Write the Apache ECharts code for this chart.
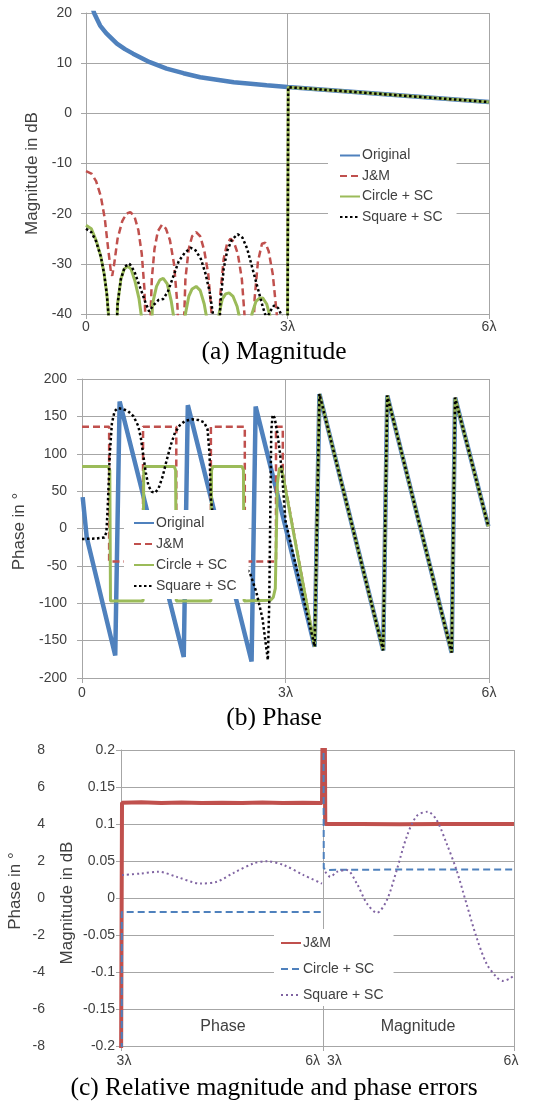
<!DOCTYPE html>
<html><head><meta charset="utf-8">
<script src="https://cdn.jsdelivr.net/npm/echarts@6/dist/echarts.min.js"></script>
<style>
html,body{margin:0;padding:0;background:#fff;}
#a,#b,#c{position:absolute;left:0;width:542px;}
#a{top:0;height:365px;}
#b{top:365px;height:365px;}
#c{top:730px;height:375px;}
</style></head><body>
<div id="a"></div><div id="b"></div><div id="c"></div>
<script>
// ---------- labels ----------
const xTickLabels = ['0', '3λ', '6λ'];
const cTickLabels = ['3λ', '6λ'];
const namesAB = ['Original', 'J&M', 'Circle + SC', 'Square + SC'];
const namesC = ['J&M', 'Circle + SC', 'Square + SC'];
const captions = ['(a) Magnitude', '(b) Phase', '(c) Relative magnitude and phase errors'];
const cRegionLabels = ['Phase', 'Magnitude'];
const axisTitles = ['Magnitude in dB', 'Phase in °'];

// ---------- (a) magnitude [x in λ, dB] ----------
const magOriginalHead = [[0.08,22],[0.12,20],[0.21,17.5],[0.3,16],[0.46,13.9],[0.58,12.8],[0.7,11.9],[0.95,10.2],[1.2,8.9],[1.45,8],[1.7,7.2],[1.95,6.7],[2.2,6.2],[2.45,5.9],[2.69,5.6],[3.0,5.25]];
const magTail = [[3.01,5.2],[3.5,4.75],[4.0,4.25],[4.5,3.75],[5.0,3.25],[5.5,2.75],[6.0,2.25]];
const magJM = [[0,-11.5],[0.08,-12],[0.15,-13.5],[0.22,-16.5],[0.28,-21],[0.33,-27],[0.37,-31.5],[0.39,-32.4],[0.42,-30],[0.47,-25],[0.54,-21.5],[0.6,-20],[0.66,-19.7],[0.72,-20.5],[0.78,-23.3],[0.83,-28],[0.87,-35],[0.9,-48],
 [0.94,-48],[0.98,-33],[1.02,-27],[1.07,-23.5],[1.13,-22.2],[1.19,-23],[1.25,-25.3],[1.31,-30],[1.36,-38],[1.4,-50],
 [1.44,-50],[1.48,-33],[1.53,-27],[1.58,-24.5],[1.64,-23.7],[1.7,-24.5],[1.76,-27.3],[1.82,-32],[1.87,-40],[1.9,-50],
 [1.97,-50],[2.0,-36],[2.05,-29],[2.1,-26],[2.15,-25],[2.2,-25.6],[2.26,-28],[2.32,-33],[2.37,-42],[2.42,-50],
 [2.48,-50],[2.51,-37],[2.56,-29.5],[2.62,-26],[2.67,-25.8],[2.72,-27.5],[2.78,-32],[2.84,-40],[2.9,-50],[3.0,-50]];
const magCircle = [[0,-22.3],[0.08,-23],[0.15,-25.3],[0.22,-28.5],[0.27,-32],[0.31,-36],[0.34,-41],[0.36,-50],
 [0.44,-50],[0.47,-38],[0.52,-33],[0.57,-31],[0.62,-30.5],[0.67,-31],[0.73,-33.5],[0.79,-37],[0.83,-41],[0.85,-50],
 [0.96,-50],[0.99,-38],[1.05,-34.5],[1.1,-33.2],[1.15,-32.9],[1.21,-34],[1.27,-37.5],[1.31,-41],[1.33,-50],
 [1.45,-50],[1.48,-40],[1.53,-36.5],[1.58,-35],[1.64,-34.5],[1.7,-35.3],[1.76,-38],[1.8,-41],[1.82,-50],
 [1.95,-50],[1.98,-40],[2.03,-37],[2.08,-36],[2.13,-35.8],[2.19,-36.5],[2.25,-38.5],[2.29,-41],[2.31,-50],
 [2.44,-50],[2.47,-40],[2.53,-37.5],[2.58,-36.9],[2.63,-36.8],[2.69,-38],[2.74,-40.5],[2.77,-50],[3.0,-50]];
const magSquare = [[0,-23],[0.08,-23.7],[0.15,-25.5],[0.22,-28.5],[0.27,-32],[0.31,-36],[0.34,-41],[0.36,-50],
 [0.44,-50],[0.47,-38],[0.52,-33],[0.58,-30.5],[0.65,-30],[0.72,-31.5],[0.8,-34.5],[0.88,-37.5],[0.94,-39.5],[1.0,-38.3],[1.08,-37.2],[1.15,-37],[1.22,-35.5],[1.3,-32.5],[1.38,-29.5],[1.47,-27.8],[1.56,-26.8],[1.63,-27.3],[1.71,-29],[1.78,-32],[1.84,-35.5],[1.89,-40],[1.92,-50],
 [1.97,-50],[2.0,-38],[2.05,-31],[2.1,-27.5],[2.17,-25.2],[2.26,-24.1],[2.33,-24.8],[2.4,-27],[2.48,-31],[2.56,-35],[2.63,-38.5],[2.69,-41],
 [2.74,-39.5],[2.8,-38.3],[2.86,-38.8],[2.92,-40.5],[2.95,-50],[3.0,-50]];

// ---------- (b) phase [x in λ, degrees] ----------
const phaseOriginalHead = [[0.01,42],[0.07,-12],[0.49,-170],[0.555,170],[1.5,-172],[1.56,165],[2.5,-178],[2.56,163],[3.0,2]];
const phaseTail = [[3.43,-158],[3.5,180],[4.44,-163],[4.5,178],[5.45,-166],[5.5,175],[5.99,3]];
const phaseJM = [[0,136],[0.4,136],[0.4,-44],[0.9,-44],[0.9,136],[1.39,136],[1.39,-44],[1.9,-44],[1.9,136],[2.4,136],[2.4,-44],[2.86,-44],[2.86,136],[2.96,136],[2.96,75]];
const phaseCircle = [[0,83],[0.38,83],[0.41,78],[0.42,-97],[0.9,-97],[0.91,78],[0.93,83],[1.36,83],[1.38,78],[1.39,-97],[1.9,-97],[1.91,78],[1.93,83],[2.36,83],[2.38,78],[2.39,-97],[2.78,-96],[2.82,-92],[2.85,-80],[2.88,60],[2.91,80],[2.94,82]];
const phaseSquare = [[0,-14],[0.2,-13.5],[0.33,-12],[0.36,-5],[0.38,30],[0.41,100],[0.44,140],[0.48,157],[0.53,161],[0.6,160],[0.68,157],[0.76,150],[0.83,137],[0.87,120],[0.9,100],[0.94,75],[0.98,57],[1.03,49],[1.08,48],[1.13,54],[1.19,70],[1.25,92],[1.31,112],[1.37,128],[1.44,138],[1.52,144],[1.62,146],[1.72,145],[1.8,142],[1.85,133],[1.88,100],[1.9,40],[1.95,0],[2.1,-30],[2.3,-48],[2.47,-58],[2.57,-85],[2.66,-120],[2.74,-176],[2.76,-100],[2.79,130],[2.81,152],[2.84,148],[2.88,128],[2.92,100],[2.96,60],[3.0,10]];

// ---------- (c) errors: left half phase [0..1 -> 3λ..6λ, degrees], right half magnitude [dB] ----------
const errPhaseJM = [[0,-10],[0.005,5.15],[0.1,5.17],[0.2,5.13],[0.3,5.16],[0.4,5.13],[0.5,5.15],[0.6,5.14],[0.7,5.16],[0.8,5.13],[0.9,5.15],[0.995,5.13],[1,12]];
const errPhaseCircle = [[0.004,-10],[0.004,-0.75],[1,-0.75]];
const errPhaseSquare = [[0.005,1.24],[0.096,1.32],[0.186,1.42],[0.277,1.14],[0.393,0.78],[0.475,0.88],[0.558,1.36],[0.657,1.87],[0.723,1.99],[0.805,1.78],[0.904,1.24],[0.995,0.78]];
const errMagJM = [[0.008,0.3],[0.012,0.1],[0.2,0.1],[0.4,0.0995],[0.6,0.1],[0.8,0.1],[1,0.1]];
const errMagCircle = [[0.002,0.3],[0.004,0.04],[0.03,0.038],[0.5,0.0386],[1,0.0386]];
const errMagSquare = [[0.012,0.0354],[0.038,0.0286],[0.073,0.0354],[0.125,0.0377],[0.177,0.0196],[0.23,-0.0075],[0.282,-0.02],[0.334,-0.003],[0.386,0.0377],[0.438,0.0827],[0.49,0.1107],[0.548,0.1166],[0.595,0.1053],[0.647,0.0737],[0.699,0.0377],[0.751,-0.0075],[0.803,-0.0525],[0.856,-0.0886],[0.908,-0.1067],[0.943,-0.112],[0.977,-0.109],[1.0,-0.1044]];

// ---------- styling ----------
const gray = '#a6a6a6';
const txt = '#404040';
const sans = 'Liberation Sans';
const serif = 'Liberation Serif';
const cBlue = '#4f81bd', cRed = '#c0504d', cGreen = '#9bbb59', cPurple = '#8064a2';

function lineSeries(name, data, color, width, type, extra) {
  return Object.assign({
    name, type: 'line', data, symbol: 'none', showSymbol: false, animation: false,
    lineStyle: { color, width, type, cap: 'butt' }, itemStyle: { color },
    emphasis: { disabled: true }
  }, extra || {});
}
function caption(text, y) {
  return { type: 'text', x: 274, y, style: { text, fontFamily: serif, fontSize: 25.5, fill: '#000', align: 'center', verticalAlign: 'middle' } };
}
function xAxisStyle() {
  return {
    axisLine: { onZero: false, lineStyle: { color: gray } },
    axisTick: { show: true, length: 5, lineStyle: { color: gray } },
    splitLine: { show: true, lineStyle: { color: gray } }
  };
}
const lblStyle = { color: txt, fontFamily: sans, fontSize: 14 };
const nameStyle = { color: txt, fontFamily: sans, fontSize: 17 };
const legendText = { fontFamily: sans, fontSize: 14, color: txt, padding: [0, 0, 0, -3] };
const legendBase = { orient: 'vertical', itemWidth: 20, itemHeight: 14, backgroundColor: '#fff',
  textStyle: legendText, selectedMode: false, itemStyle: { opacity: 0 } };

// ---------- chart (a) ----------
const chA = echarts.init(document.getElementById('a'), null, { renderer: 'canvas' });
chA.setOption({
  animation: false,
  grid: { left: 86, top: 13, width: 403, height: 301 },
  xAxis: Object.assign({ type: 'value', min: 0, max: 6, interval: 3,
    axisLabel: Object.assign({ margin: 6, formatter: v => xTickLabels[Math.round(v / 3)] }, lblStyle) }, xAxisStyle()),
  yAxis: Object.assign({ type: 'value', min: -40, max: 20, interval: 10,
    name: axisTitles[0], nameLocation: 'middle', nameRotate: 90, nameGap: 42.5,
    nameTextStyle: Object.assign({ padding: [0, 20, 0, 0] }, nameStyle),
    axisLabel: Object.assign({ margin: 14 }, lblStyle) }, xAxisStyle()),
  legend: Object.assign({ left: 328, top: 143.5, padding: [5, 14, 5, 11], itemGap: 6.5, data: namesAB }, legendBase),
  graphic: [caption(captions[0], 352)],
  series: [
    lineSeries('Original', magOriginalHead.concat(magTail), cBlue, 4.5, 'solid'),
    lineSeries('J&M', magJM.concat(magTail), cRed, 2.5, [7, 4]),
    lineSeries('Circle + SC', magCircle.concat(magTail), cGreen, 3, 'solid'),
    lineSeries('Square + SC', magSquare.concat(magTail), '#000', 2.5, [2.5, 2.5])
  ]
});

// ---------- chart (b) ----------
const chB = echarts.init(document.getElementById('b'), null, { renderer: 'canvas' });
chB.setOption({
  animation: false,
  grid: { left: 82, top: 14, width: 407, height: 299 },
  xAxis: Object.assign({ type: 'value', min: 0, max: 6, interval: 3,
    axisLabel: Object.assign({ margin: 8, formatter: v => xTickLabels[Math.round(v / 3)] }, lblStyle) }, xAxisStyle()),
  yAxis: Object.assign({ type: 'value', min: -200, max: 200, interval: 50,
    name: axisTitles[1], nameLocation: 'middle', nameRotate: 90, nameGap: 47.5,
    nameTextStyle: Object.assign({ padding: [0, 6, 0, 0] }, nameStyle),
    axisLabel: Object.assign({ margin: 15 }, lblStyle) }, xAxisStyle()),
  legend: Object.assign({ left: 124, top: 145, padding: [6, 12, 6, 9], itemGap: 7, data: namesAB }, legendBase),
  graphic: [caption(captions[1], 353)],
  series: [
    lineSeries('Original', phaseOriginalHead.concat(phaseTail), cBlue, 4.5, 'solid'),
    lineSeries('J&M', phaseJM.concat(phaseTail), cRed, 2.5, [7, 4]),
    lineSeries('Circle + SC', phaseCircle.concat(phaseTail), cGreen, 3, 'solid'),
    lineSeries('Square + SC', phaseSquare.concat(phaseTail), '#000', 2.5, [2.5, 2.5])
  ]
});

// ---------- chart (c) ----------
const chC = echarts.init(document.getElementById('c'), null, { renderer: 'canvas' });
const magFmt = v => String(parseFloat(v.toFixed(2)));
chC.setOption({
  animation: false,
  grid: [{ left: 121, top: 20, width: 202, height: 296 }, { left: 323, top: 20, width: 191, height: 296 }],
  xAxis: [
    Object.assign({ gridIndex: 0, type: 'value', min: 0, max: 1, interval: 1,
      axisLabel: Object.assign({ margin: 8, alignMaxLabel: 'right',
        formatter: v => (Math.round(v) === 0 ? '{l|' : '{r|') + cTickLabels[Math.round(v)] + '}',
        rich: { l: { padding: [0, 0, 0, 6], fontFamily: sans, fontSize: 14, color: txt }, r: { padding: [0, 3, 0, 0], fontFamily: sans, fontSize: 14, color: txt } } }, lblStyle) }, xAxisStyle()),
    Object.assign({ gridIndex: 1, type: 'value', min: 0, max: 1, interval: 1,
      axisLabel: Object.assign({ margin: 8, alignMinLabel: 'left',
        formatter: v => (Math.round(v) === 0 ? '{l|' : '{r|') + cTickLabels[Math.round(v)] + '}',
        rich: { l: { padding: [0, 0, 0, 4], fontFamily: sans, fontSize: 14, color: txt }, r: { padding: [0, 6, 0, 0], fontFamily: sans, fontSize: 14, color: txt } } }, lblStyle) }, xAxisStyle())
  ],
  yAxis: [
    { gridIndex: 0, type: 'value', min: -8, max: 8, interval: 2, position: 'left', offset: 68,
      name: axisTitles[1], nameLocation: 'middle', nameRotate: 90, nameGap: 29.5,
      nameTextStyle: Object.assign({ padding: [0, 0, 0, 14] }, nameStyle),
      axisLine: { show: false, onZero: false }, axisTick: { show: false }, splitLine: { show: false },
      axisLabel: Object.assign({ margin: 8 }, lblStyle) },
    Object.assign({ gridIndex: 0, type: 'value', min: -0.2, max: 0.2, interval: 0.05, position: 'left',
      name: axisTitles[0], nameLocation: 'middle', nameRotate: 90, nameGap: 45.5,
      nameTextStyle: Object.assign({ padding: [0, 10, 0, 0] }, nameStyle),
      axisLabel: Object.assign({ margin: 6, formatter: magFmt }, lblStyle) }, xAxisStyle()),
    { gridIndex: 1, type: 'value', min: -0.2, max: 0.2, interval: 0.05, position: 'left',
      axisLine: { show: true, onZero: false, lineStyle: { color: gray } }, axisTick: { show: false },
      axisLabel: { show: false }, splitLine: { show: true, lineStyle: { color: gray } } }
  ],
  legend: Object.assign({ left: 274, top: 199, padding: [7, 10, 4, 6], itemGap: 12, data: namesC }, legendBase),
  graphic: [
    { type: 'text', x: 223, y: 297, style: { text: cRegionLabels[0], fontFamily: sans, fontSize: 16, fill: txt, align: 'center', verticalAlign: 'middle' } },
    { type: 'text', x: 418, y: 297, style: { text: cRegionLabels[1], fontFamily: sans, fontSize: 16, fill: txt, align: 'center', verticalAlign: 'middle' } },
    caption(captions[2], 358)
  ],
  series: [
    lineSeries('J&M', errPhaseJM, cRed, 4, 'solid', { xAxisIndex: 0, yAxisIndex: 0 }),
    lineSeries('Circle + SC', errPhaseCircle, cBlue, 2, [7, 4], { xAxisIndex: 0, yAxisIndex: 0 }),
    lineSeries('Square + SC', errPhaseSquare, cPurple, 2, [2, 3], { xAxisIndex: 0, yAxisIndex: 0, smooth: 0.3 }),
    lineSeries('J&M', errMagJM, cRed, 4, 'solid', { xAxisIndex: 1, yAxisIndex: 2 }),
    lineSeries('Circle + SC', errMagCircle, cBlue, 2, [7, 4], { xAxisIndex: 1, yAxisIndex: 2 }),
    lineSeries('Square + SC', errMagSquare, cPurple, 2, [2, 3], { xAxisIndex: 1, yAxisIndex: 2, smooth: 0.3 })
  ]
});
</script>
</body></html>
